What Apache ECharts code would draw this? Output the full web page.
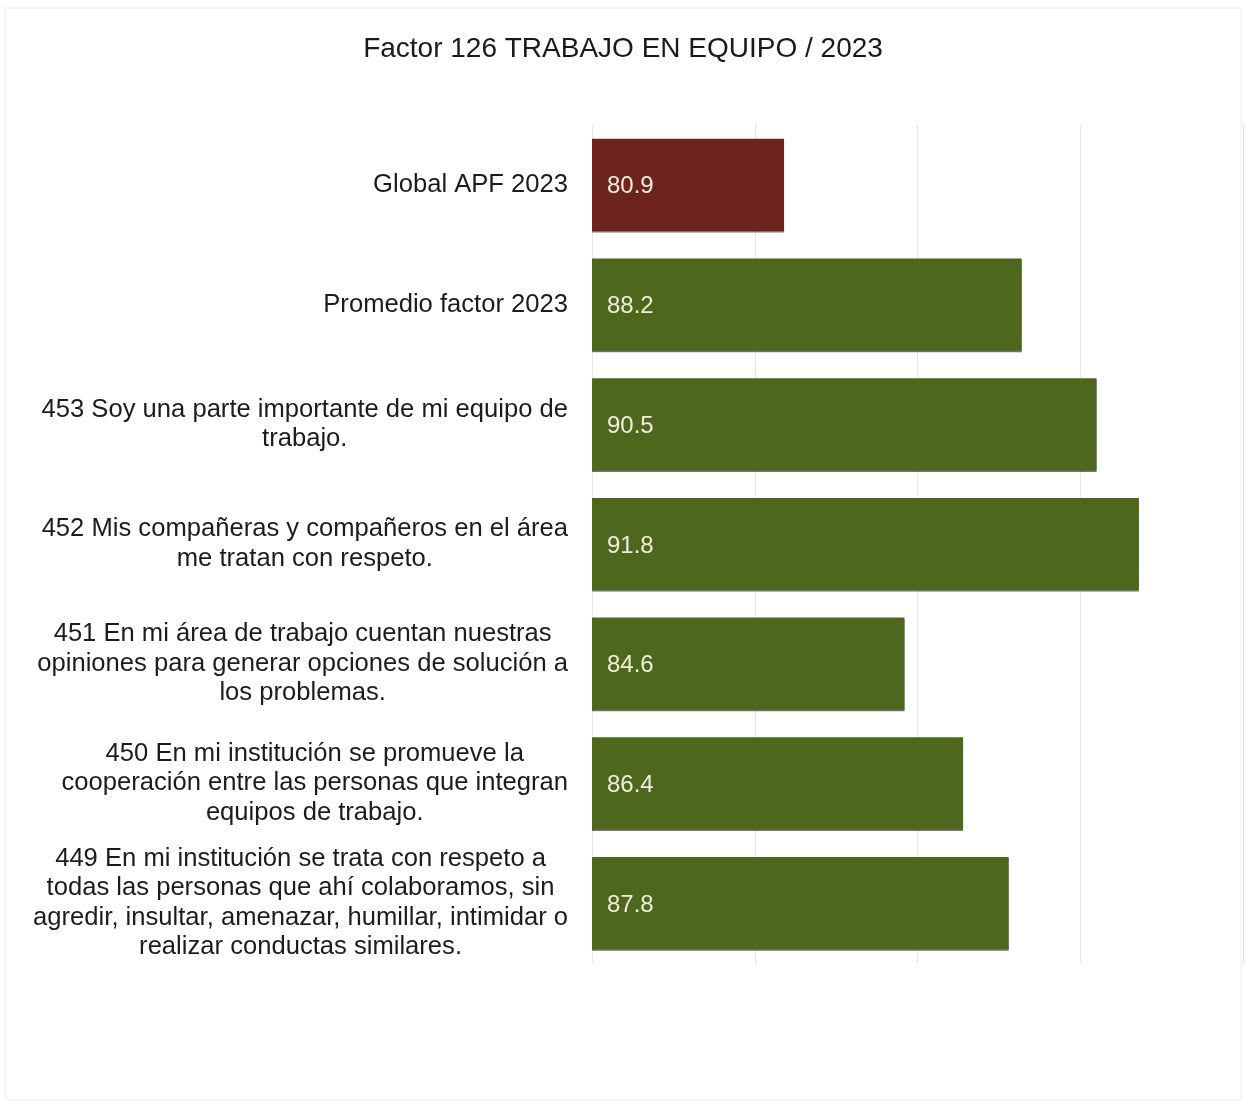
<!DOCTYPE html>
<html>
<head>
<meta charset="utf-8">
<script src="https://cdn.jsdelivr.net/npm/echarts@6/dist/echarts.min.js"></script>
<style>
  html, body { margin: 0; padding: 0; background: #ffffff; }
  #chart { width: 1246px; height: 1103px; }
</style>
</head>
<body>
<div id="chart"></div>
<script>
// Reactivos del factor, de arriba hacia abajo
const categories = [
  'Global APF 2023',
  'Promedio factor 2023',
  '453 Soy una parte importante de mi equipo de\ntrabajo.',
  '452 Mis compañeras y compañeros en el área\nme tratan con respeto.',
  '451 En mi área de trabajo cuentan nuestras\nopiniones para generar opciones de solución a\nlos problemas.',
  '450 En mi institución se promueve la\ncooperación entre las personas que integran\nequipos de trabajo.',
  '449 En mi institución se trata con respeto a\ntodas las personas que ahí colaboramos, sin\nagredir, insultar, amenazar, humillar, intimidar o\nrealizar conductas similares.'
];
const values = [80.9, 88.2, 90.5, 91.8, 84.6, 86.4, 87.8];
const axisTicks = [75, 80, 85, 90, 95];
const referenceCategory = 'Global APF 2023';

const RED = '#6c241c';
const GREEN = '#4d671d';
const FONT = '"Liberation Sans", Arial, sans-serif';

const chart = echarts.init(document.getElementById('chart'));
chart.setOption({
  backgroundColor: '#ffffff',
  animation: false,
  title: {
    text: 'Factor 126 TRABAJO EN EQUIPO / 2023',
    left: 'center',
    top: 30,
    textStyle: {
      fontFamily: FONT,
      fontSize: 28,
      fontWeight: 'normal',
      color: '#1a1a1a'
    }
  },
  graphic: [{
    type: 'rect',
    shape: { x: 5, y: 8, width: 1236, height: 1092 },
    style: { fill: 'none', stroke: '#ececec', lineWidth: 1 },
    silent: true
  }],
  grid: { left: 592, right: 3, top: 125, height: 838, containLabel: false },
  xAxis: {
    type: 'value',
    min: axisTicks[0],
    max: axisTicks[axisTicks.length - 1],
    interval: axisTicks[1] - axisTicks[0],
    axisLabel: { show: false },
    axisLine: { show: false },
    axisTick: { show: false },
    splitLine: { show: true, lineStyle: { color: '#e6e6e6', width: 1 } }
  },
  yAxis: {
    type: 'category',
    inverse: true,
    data: categories,
    axisLine: { show: false },
    axisTick: { show: false },
    axisLabel: {
      margin: 24,
      align: 'right',
      formatter: function (name) {
        return name.split('\n').map(function (l) { return '{c|' + l + '}'; }).join('\n');
      },
      rich: {
        c: {
          align: 'center',
          fontFamily: FONT,
          fontSize: 25.6,
          lineHeight: 29.5,
          color: '#1c1c1c'
        }
      }
    }
  },
  series: [{
    type: 'bar',
    data: values.map(function (v, i) {
      return {
        value: v,
        itemStyle: { color: categories[i] === referenceCategory ? RED : GREEN }
      };
    }),
    barCategoryGap: '23%',
    itemStyle: {
      shadowColor: 'rgba(0,0,0,0.55)',
      shadowOffsetY: 1.5,
      shadowBlur: 0
    },
    label: {
      show: true,
      position: 'insideLeft',
      distance: 15,
      offset: [0, 2],
      formatter: function (p) { return p.value.toFixed(1); },
      fontFamily: FONT,
      fontSize: 24,
      color: '#f1ecdc'
    }
  }]
});
</script>
</body>
</html>
